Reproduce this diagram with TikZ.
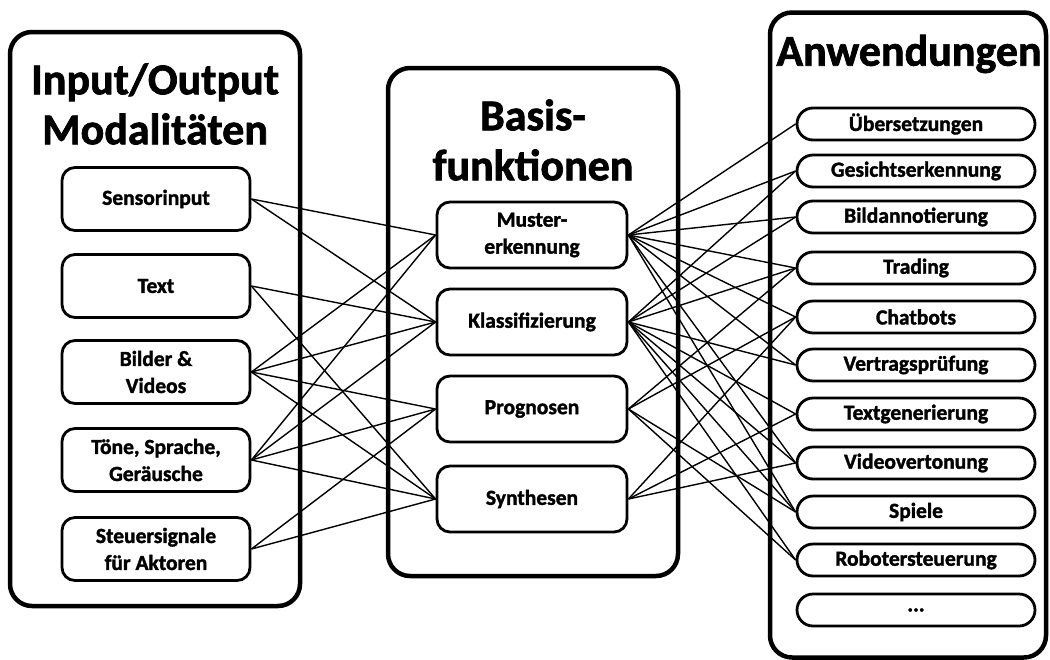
\documentclass[tikz,border=0pt]{standalone}
\usepackage{fontspec}
\setmainfont{Carlito}[BoldFeatures={FakeBold=1.6}]
\usetikzlibrary{shapes.misc}

\newcommand{\titlefont}{\fontsize{44}{50}\selectfont\bfseries}
\newcommand{\boxfont}{\fontsize{21.5}{27}\selectfont\bfseries}

\tikzset{
  bigbox/.style={draw, line width=4.5pt, rounded corners=22pt},
  title/.style={align=center, font=\titlefont},
  modbox/.style={draw, line width=2.8pt, rounded corners=13pt, align=center,
                 minimum width=188pt, minimum height=63pt, font=\boxfont},
  funcbox/.style={modbox, minimum width=190pt, minimum height=66pt},
  appbox/.style={draw, rounded rectangle, line width=2.8pt, minimum width=238pt,
                 minimum height=32pt, inner sep=0pt, font=\boxfont},
  link/.style={line width=1.4pt}
}

\begin{document}
\begin{tikzpicture}[x=1pt,y=-1pt]
  \useasboundingbox (0,0) rectangle (1050,659);

  % the three columns
  \node[bigbox, minimum width=290pt, minimum height=574pt] (modcol) at (155,319) {};
  \node[bigbox, minimum width=290pt, minimum height=508pt] (funccol) at (533,322) {};
  \node[bigbox, minimum width=276pt, minimum height=645pt] (appcol) at (908,335) {};

  \node[title] (modtitle)  at (155,104) {Input/Output\\Modalitäten};
  \node[title] (functitle) at (533,140) {Basis-\\funktionen};
  \node[title] (apptitle)  at (909,54)  {Anwendungen};

  % modalities
  \node[modbox] (sensor) at (156,199) {Sensorinput};
  \node[modbox] (text)   at (156,286) {Text};
  \node[modbox] (bilder) at (156,372) {Bilder \&\\Videos};
  \node[modbox] (toene)  at (156,460) {Töne, Sprache,\\Geräusche};
  \node[modbox] (steuer) at (156,549) {Steuersignale\\für Aktoren};

  % basic functions
  \node[funcbox] (muster) at (532,235) {Muster-\\erkennung};
  \node[funcbox] (klass)  at (532,322) {Klassifizierung};
  \node[funcbox] (prog)   at (532,409) {Prognosen};
  \node[funcbox] (synth)  at (532,499) {Synthesen};

  % applications
  \node[appbox] (uebers)  at (916,124) {Übersetzungen};
  \node[appbox] (gesicht) at (916,171) {Gesichtserkennung};
  \node[appbox] (bildann) at (916,217) {Bildannotierung};
  \node[appbox] (trading) at (916,268) {Trading};
  \node[appbox] (chat)    at (916,317) {Chatbots};
  \node[appbox] (vertrag) at (916,365) {Vertragsprüfung};
  \node[appbox] (textgen) at (916,414) {Textgenerierung};
  \node[appbox] (video)   at (916,463) {Videovertonung};
  \node[appbox] (spiele)  at (916,512) {Spiele};
  \node[appbox] (robot)   at (916,560) {Robotersteuerung};
  \node[appbox] (more)    at (916,610) {...};

  % modalities -> functions
  \path[link] (sensor.east) edge (muster.west) edge (klass.west)
              (text.east)   edge (klass.west)  edge (synth.west)
              (bilder.east) edge (muster.west) edge (klass.west)
                            edge (prog.west)   edge (synth.west)
              (toene.east)  edge (muster.west) edge (klass.west)
                            edge (prog.west)   edge (synth.west)
              (steuer.east) edge (prog.west)   edge (synth.west);

  % functions -> applications
  \path[link] (muster.east) edge (uebers.west)  edge (gesicht.west)
                            edge (bildann.west) edge (trading.west)
                            edge (chat.west)    edge (vertrag.west)
                            edge (video.west)   edge (spiele.west)
              (klass.east)  edge (gesicht.west) edge (bildann.west)
                            edge (trading.west) edge (vertrag.west)
                            edge (textgen.west) edge (video.west)
                            edge (spiele.west)  edge (robot.west)
              (prog.east)   edge (trading.west) edge (chat.west)
                            edge (spiele.west)  edge (robot.west)
              (synth.east)  edge (chat.west)    edge (textgen.west)
                            edge (video.west);
\end{tikzpicture}
\end{document}
